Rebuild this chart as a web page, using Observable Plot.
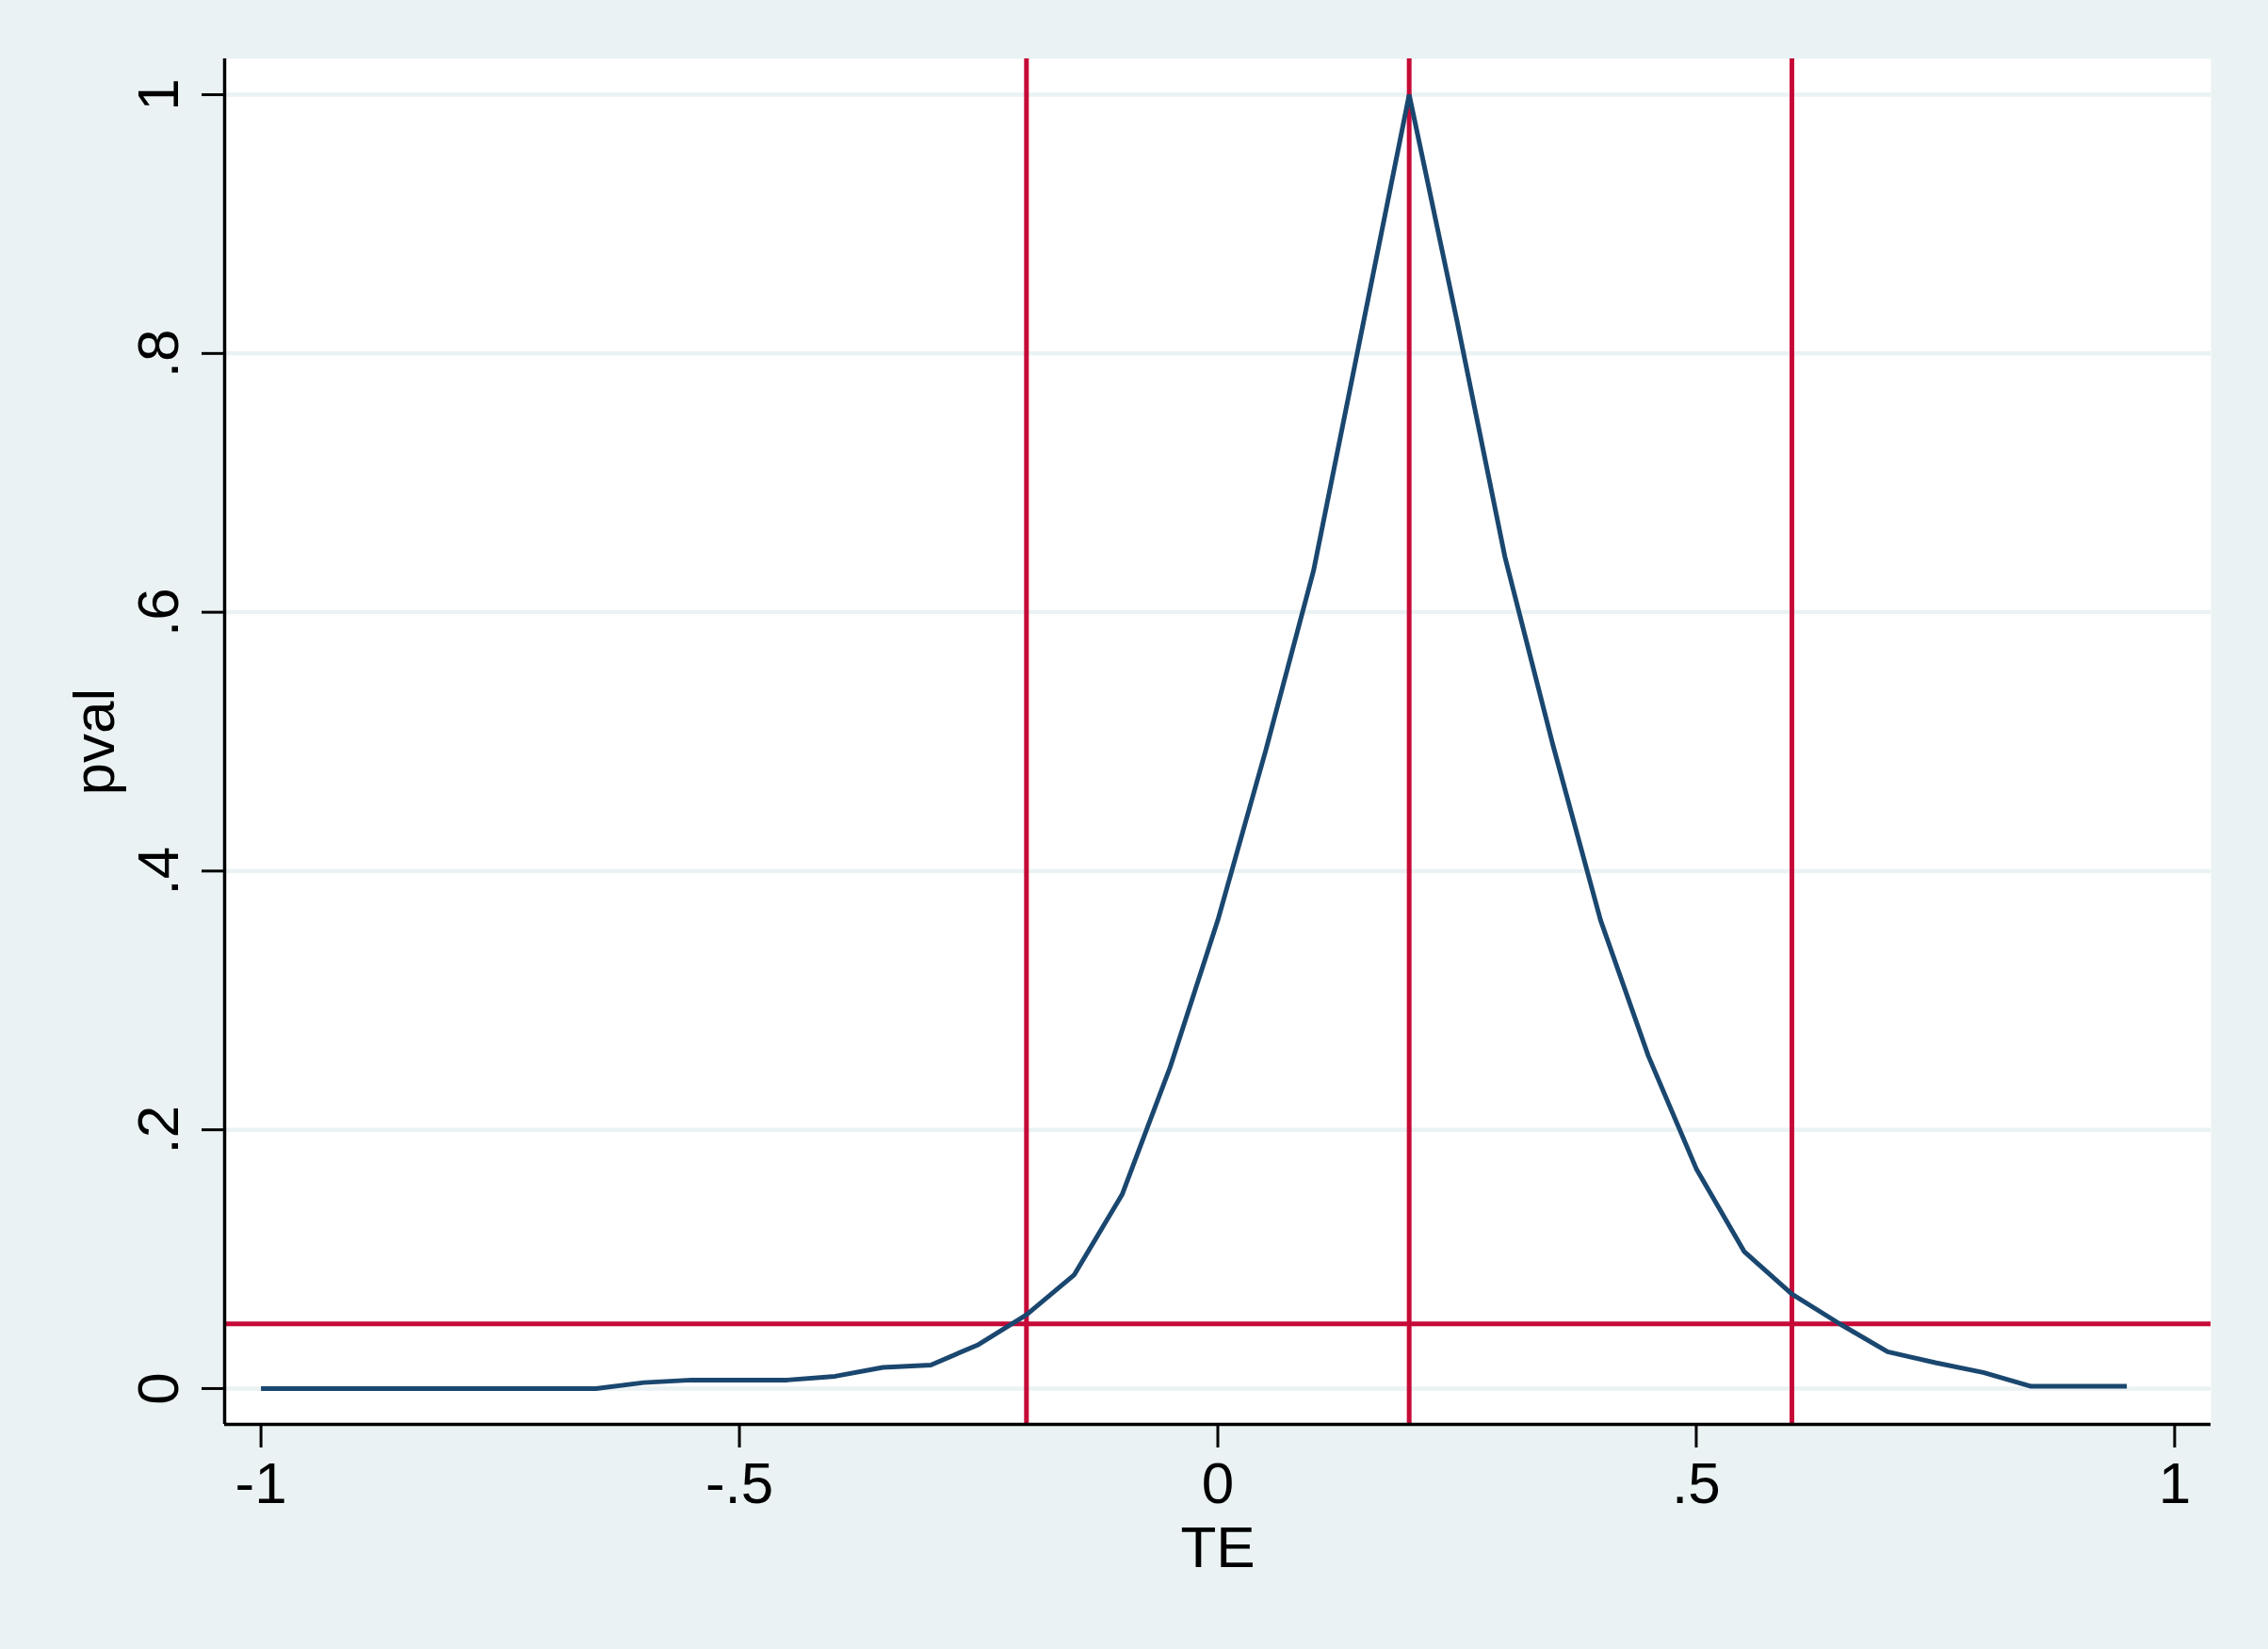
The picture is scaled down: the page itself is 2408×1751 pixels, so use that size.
<!DOCTYPE html>
<html><head><meta charset="utf-8">
<script src="https://cdn.jsdelivr.net/npm/d3@7"></script>
<script src="https://cdn.jsdelivr.net/npm/@observablehq/plot@0.6"></script>
<style>
html,body{margin:0;padding:0;background:#EAF2F3;}
</style></head><body><div id="chart"></div>
<script>
// Data
const te = [-1,-0.95,-0.9,-0.85,-0.8,-0.75,-0.7,-0.65,-0.6,-0.55,-0.5,-0.45,-0.4,-0.35,-0.3,-0.25,-0.2,-0.15,-0.1,-0.05,0,0.05,0.1,0.15,0.2,0.25,0.3,0.35,0.4,0.45,0.5,0.55,0.6,0.65,0.7,0.75,0.8,0.85,0.9,0.95];
const pval = [0,0,0,0,0,0,0,0,0.0046,0.0066,0.0066,0.0066,0.0095,0.0163,0.0182,0.034,0.057,0.088,0.150,0.248,0.362,0.493,0.632,0.816,1.0,0.825,0.643,0.498,0.362,0.257,0.170,0.106,0.073,0.050,0.0284,0.020,0.0124,0.0017,0.0017,0.0017];
const xlines = [-0.2, 0.2, 0.6];
const ylines = [0.05];
const xTicks = [-1, -0.5, 0, 0.5, 1];
const xTickLabels = ["-1", "-.5", "0", ".5", "1"];
const yTicks = [0, 0.2, 0.4, 0.6, 0.8, 1];
const yTickLabels = ["0", ".2", ".4", ".6", ".8", "1"];
const xTitle = "TE";
const yTitle = "pval";

const data = te.map((t, i) => ({te: t, pval: pval[i]}));
const xDomain = [-1.038, 1.038];
const yDomain = [-0.0277, 1.0277];

const chart = Plot.plot({
  width: 2408, height: 1751,
  marginLeft: 238, marginRight: 61, marginTop: 62, marginBottom: 239,
  style: {background: "#EAF2F3", fontFamily: "'Liberation Sans', Arial, Helvetica, sans-serif", fontSize: "62px", color: "black"},
  x: {domain: xDomain},
  y: {domain: yDomain},
  marks: [
    Plot.frame({fill: "white"}),
    Plot.gridY(yTicks, {stroke: "#EAF2F3", strokeOpacity: 1, strokeWidth: 4.5}),
    Plot.ruleX(xlines, {stroke: "#C60A37", strokeWidth: 5}),
    Plot.ruleY(ylines, {stroke: "#C60A37", strokeWidth: 5}),
    Plot.line(data, {x: "te", y: "pval", stroke: "#1A476F", strokeWidth: 5, strokeLinejoin: "miter", strokeLinecap: "butt"}),
    Plot.axisX({ticks: xTicks, tickFormat: d => xTickLabels[xTicks.indexOf(d)], tickSize: 25, tickPadding: 14, strokeWidth: 3, label: null, fontSize: 62}),
    Plot.axisY({ticks: yTicks, tickFormat: d => yTickLabels[yTicks.indexOf(d)], tickSize: 24, tickPadding: 26, tickRotate: -90, strokeWidth: 3, label: null, fontSize: 62}),
    Plot.ruleX([xDomain[0]], {stroke: "black", strokeWidth: 3.5}),
    Plot.ruleY([yDomain[0]], {stroke: "black", strokeWidth: 3.5}),
    Plot.text([xTitle], {frameAnchor: "bottom", dy: 107, lineAnchor: "top", text: d => d, fontSize: 62}),
    Plot.text([yTitle], {frameAnchor: "left", dx: -137, rotate: -90, lineAnchor: "middle", textAnchor: "middle", text: d => d, fontSize: 62})
  ]
});
document.getElementById("chart").appendChild(chart);
</script>
</body></html>
